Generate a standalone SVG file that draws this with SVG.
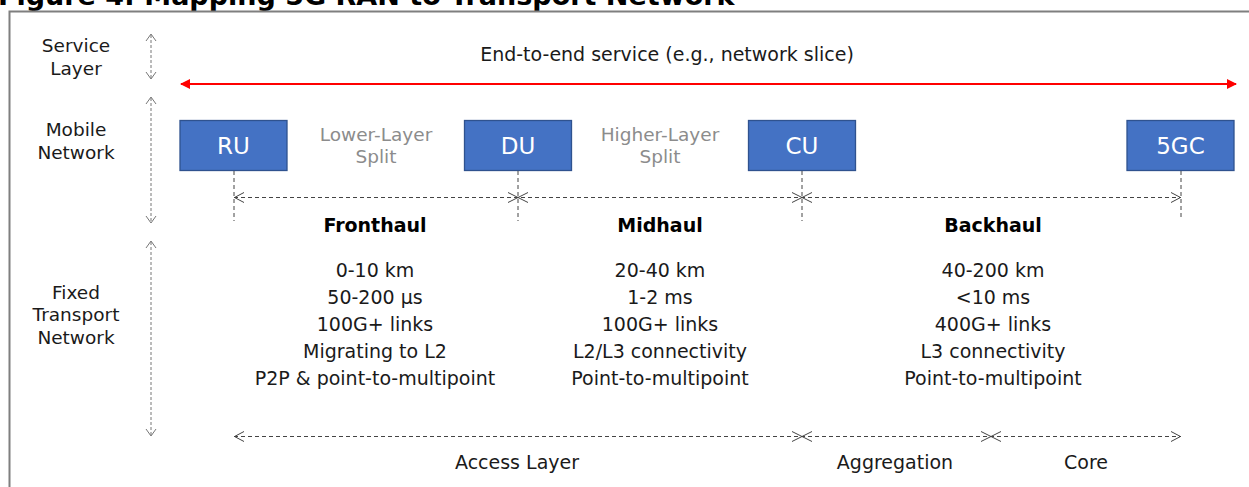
<svg xmlns="http://www.w3.org/2000/svg" width="1249" height="487" viewBox="0 0 1249 487">
  <style>
    text { font-family: "DejaVu Sans", Verdana, sans-serif; fill: #1a1a1a; }
    .title { font-size: 27px; font-weight: bold; fill: #000; }
    .side { font-size: 18.5px; text-anchor: middle; }
    .body { font-size: 19px; text-anchor: middle; }
    .head { font-size: 19px; font-weight: bold; text-anchor: middle; fill: #000; }
    .split { font-size: 18.5px; text-anchor: middle; fill: #8c8c8c; }
    .box rect { fill: #4472C4; stroke: #2F528F; stroke-width: 1.3; }
    .box text { font-size: 23px; fill: #fff; text-anchor: middle; }
    .dash { stroke: #444; stroke-width: 1; stroke-dasharray: 4 3; fill: none; }
    .vdash { stroke: #777; stroke-width: 1; stroke-dasharray: 3 2; fill: none; }
    .head-o { stroke: #444; stroke-width: 1; fill: none; }
    .head-g { stroke: #777; stroke-width: 1; fill: none; }
  </style>
  <defs>
    <marker id="redHead" viewBox="0 0 10 10" refX="9" refY="5" markerWidth="10" markerHeight="10" markerUnits="userSpaceOnUse" orient="auto-start-reverse">
      <path d="M0,0 L10,5 L0,10 z" fill="#ff0000"/>
    </marker>
  </defs>

  <!-- heading, clipped by the top edge -->
  <text class="title" x="-2" y="5">Figure 4: Mapping 5G RAN to Transport Network</text>

  <!-- outer frame -->
  <rect x="9.5" y="11.5" width="1260" height="500" fill="none" stroke="#7f7f7f" stroke-width="2"/>

  <!-- layer labels -->
  <g id="layer-labels">
    <text class="side" x="76" y="52">Service</text>
    <text class="side" x="76" y="75">Layer</text>
    <text class="side" x="76" y="136">Mobile</text>
    <text class="side" x="76" y="159">Network</text>
    <text class="side" x="76" y="299">Fixed</text>
    <text class="side" x="76" y="321">Transport</text>
    <text class="side" x="76" y="344">Network</text>
  </g>

  <!-- nodes -->
  <g id="node-ru" class="box">
    <rect x="180" y="120.5" width="107" height="50"/>
    <text x="233.5" y="154">RU</text>
  </g>
  <g id="node-du" class="box">
    <rect x="464.5" y="120.5" width="107" height="50"/>
    <text x="518" y="154">DU</text>
  </g>
  <g id="node-cu" class="box">
    <rect x="748.5" y="120.5" width="107" height="50"/>
    <text x="802" y="154">CU</text>
  </g>
  <g id="node-5gc" class="box">
    <rect x="1127" y="120.5" width="107" height="50"/>
    <text x="1180.5" y="154">5GC</text>
  </g>

  <!-- split labels -->
  <g id="split-labels">
    <text class="split" x="376" y="141">Lower-Layer</text>
    <text class="split" x="376" y="163">Split</text>
    <text class="split" x="660" y="141">Higher-Layer</text>
    <text class="split" x="660" y="163">Split</text>
  </g>

  <!-- service text -->
  <text class="body" x="667" y="61">End-to-end service (e.g., network slice)</text>

  <g id="connectors">
    <!-- end-to-end service arrow -->
    <line x1="181" y1="84" x2="1236" y2="84" stroke="#ff0000" stroke-width="2" marker-start="url(#redHead)" marker-end="url(#redHead)"/>

    <!-- layer extent arrows -->
    <line class="vdash" x1="151" y1="35" x2="151" y2="78"/>
    <path class="head-g" d="M146,41 L151,34 L156,41 M146,72 L151,79 L156,72"/>
    <line class="vdash" x1="151" y1="98" x2="151" y2="222"/>
    <path class="head-g" d="M146,104 L151,97 L156,104 M146,216 L151,223 L156,216"/>
    <line class="vdash" x1="151" y1="242" x2="151" y2="435"/>
    <path class="head-g" d="M146,248 L151,241 L156,248 M146,429 L151,436 L156,429"/>

    <!-- drop lines from nodes -->
    <line class="dash" x1="234" y1="171" x2="234" y2="221"/>
    <line class="dash" x1="518" y1="171" x2="518" y2="221"/>
    <line class="dash" x1="802" y1="171" x2="802" y2="221"/>
    <line class="dash" x1="1181" y1="171" x2="1181" y2="218"/>

    <!-- fronthaul / midhaul / backhaul spans -->
    <line class="dash" x1="234" y1="197.5" x2="1181" y2="197.5"/>
    <path class="head-o" d="M244,192.5 L234.5,197.5 L244,202.5"/>
    <path class="head-o" d="M508,192.5 L518,197.5 L508,202.5 M528,192.5 L518,197.5 L528,202.5"/>
    <path class="head-o" d="M792,192.5 L802,197.5 L792,202.5 M812,192.5 L802,197.5 L812,202.5"/>
    <path class="head-o" d="M1171,192.5 L1180.5,197.5 L1171,202.5"/>

    <!-- access / aggregation / core spans -->
    <line class="dash" x1="234" y1="436.5" x2="1181" y2="436.5"/>
    <path class="head-o" d="M244,431.5 L234.5,436.5 L244,441.5"/>
    <path class="head-o" d="M792,431.5 L802,436.5 L792,441.5 M812,431.5 L802,436.5 L812,441.5"/>
    <path class="head-o" d="M981,431.5 L991,436.5 L981,441.5 M1001,431.5 L991,436.5 L1001,441.5"/>
    <path class="head-o" d="M1171,431.5 L1180.5,436.5 L1171,441.5"/>
  </g>

  <!-- segment details -->
  <g id="fronthaul">
    <text class="head" x="375" y="232">Fronthaul</text>
    <text class="body" x="375" y="277">0-10 km</text>
    <text class="body" x="375" y="304">50-200 µs</text>
    <text class="body" x="375" y="331">100G+ links</text>
    <text class="body" x="375" y="358">Migrating to L2</text>
    <text class="body" x="375" y="385">P2P &amp; point-to-multipoint</text>
  </g>
  <g id="midhaul">
    <text class="head" x="660" y="232">Midhaul</text>
    <text class="body" x="660" y="277">20-40 km</text>
    <text class="body" x="660" y="304">1-2 ms</text>
    <text class="body" x="660" y="331">100G+ links</text>
    <text class="body" x="660" y="358">L2/L3 connectivity</text>
    <text class="body" x="660" y="385">Point-to-multipoint</text>
  </g>
  <g id="backhaul">
    <text class="head" x="993" y="232">Backhaul</text>
    <text class="body" x="993" y="277">40-200 km</text>
    <text class="body" x="993" y="304">&lt;10 ms</text>
    <text class="body" x="993" y="331">400G+ links</text>
    <text class="body" x="993" y="358">L3 connectivity</text>
    <text class="body" x="993" y="385">Point-to-multipoint</text>
  </g>

  <!-- transport layer names -->
  <g id="transport-layers">
    <text class="body" x="517" y="469">Access Layer</text>
    <text class="body" x="895" y="469">Aggregation</text>
    <text class="body" x="1086" y="469">Core</text>
  </g>
</svg>
